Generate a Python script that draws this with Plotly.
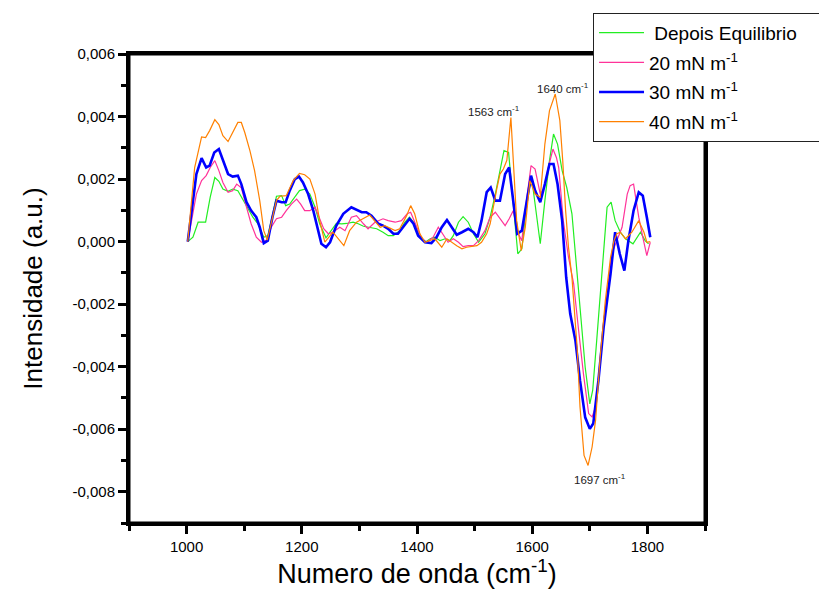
import plotly.graph_objects as go

# Difference spectra (intensity vs wavenumber) for the monolayer series
wn_equil = [1002, 1011, 1020, 1033, 1041, 1049, 1056, 1063, 1072, 1080, 1089, 1098, 1107, 1115,
            1124, 1134, 1141, 1149, 1156, 1165, 1172, 1179, 1188, 1196, 1205, 1214, 1223, 1231,
            1242, 1254, 1260, 1269, 1278, 1289, 1298, 1307, 1318, 1330, 1341, 1350, 1359, 1370,
            1379, 1387, 1396, 1405, 1414, 1423, 1431, 1440, 1449, 1457, 1463, 1472, 1480, 1489,
            1498, 1507, 1518, 1527, 1536, 1544, 1551, 1559, 1566, 1575, 1582, 1591, 1599, 1605,
            1614, 1622, 1630, 1637, 1644, 1652, 1660, 1669, 1678, 1685, 1692, 1700, 1705, 1712,
            1721, 1730, 1737, 1744, 1753, 1762, 1775, 1788, 1796, 1802]
int_equil = [0.0, 0.00014, 0.00062, 0.00062, 0.00142, 0.00205, 0.00193, 0.00168, 0.00161, 0.00168,
             0.00163, 0.00131, 0.00104, 0.00078, 0.00057, 0.00014, 0.00019, 0.00083, 0.00145,
             0.00147, 0.00115, 0.0012, 0.00142, 0.00163, 0.00168, 0.00152, 0.0011, 0.00057,
             0.00012, 0.00041, 0.00058, 0.00057, 0.00058, 0.00062, 0.00057, 0.00049, 0.00046,
             0.00041, 0.0003, 0.00019, 0.00019, 0.00035, 0.00062, 0.00078, 0.00057, 0.00014,
             -0.00002, 0.00009, 0.00014, 0.00003, 0.00009, 0.00003, 0.00019, 0.00062, 0.0008,
             0.00062, 0.00025, -0.00002, 0.00025, 0.00078, 0.00152, 0.00227, 0.00291, 0.00285,
             0.00152, -0.00039, -0.00023, 0.00131, 0.00205, 0.0012, -0.00007, 0.00131, 0.00259,
             0.00344, 0.00312, 0.00227, 0.00173, 0.00089, -0.00103, -0.00274, -0.00402, -0.00519,
             -0.00476, -0.00316, -0.00103, 0.0011, 0.00126, 0.00067, 0.0003, 0.00009, -0.00007,
             0.0003, 0.00003, -0.00007]

wn_20 = [1002, 1011, 1017, 1026, 1034, 1041, 1049, 1056, 1063, 1072, 1080, 1087, 1095, 1104, 1112,
         1121, 1130, 1139, 1147, 1156, 1165, 1173, 1182, 1191, 1198, 1205, 1214, 1223, 1230, 1238,
         1246, 1254, 1266, 1275, 1286, 1295, 1307, 1315, 1327, 1341, 1350, 1362, 1373, 1383, 1389,
         1400, 1408, 1417, 1428, 1437, 1446, 1454, 1463, 1472, 1480, 1489, 1498, 1507, 1518, 1527,
         1536, 1544, 1553, 1560, 1567, 1576, 1582, 1590, 1598, 1605, 1614, 1621, 1628, 1636, 1642,
         1646, 1654, 1663, 1672, 1680, 1689, 1698, 1704, 1710, 1718, 1727, 1738, 1747, 1756, 1765,
         1770, 1776, 1785, 1792, 1799, 1805]
int_20 = [0.0, 0.00089, 0.00152, 0.00195, 0.00211, 0.00237, 0.00259, 0.00227, 0.00189, 0.00158,
          0.00163, 0.00184, 0.00172, 0.0011, 0.00057, 0.00014, -0.00002, 0.00005, 0.00046, 0.00073,
          0.00078, 0.00099, 0.0012, 0.00136, 0.0012, 0.00099, 0.00099, 0.0011, 0.00078, 0.00041,
          0.00025, 0.0003, 0.00046, 0.00035, 0.00078, 0.00083, 0.00057, 0.00041, 0.00062, 0.00073,
          0.00067, 0.00062, 0.00067, 0.00089, 0.00094, 0.00046, 0.00009, -0.00002, 0.00014,
          0.00046, 0.00019, -0.00002, 0.00009, -0.00002, -0.00016, -0.00013, -0.00013, 0.00003,
          0.00035, 0.00078, 0.00094, 0.00073, 0.00051, 0.00073, 0.00099, 0.00025, 0.00003,
          0.00131, 0.00243, 0.00232, 0.00152, 0.00173, 0.00237, 0.00296, 0.00269, 0.00237,
          0.00067, -0.0005, -0.00135, -0.00274, -0.00423, -0.0055, -0.00561, -0.00529, -0.0037,
          -0.0021, -0.00039, 0.00003, 0.00046, 0.00152, 0.00179, 0.00184, 0.00078, 0.00014,
          -0.00045, -0.00002]

wn_30 = [1002, 1011, 1017, 1026, 1034, 1040, 1048, 1056, 1063, 1072, 1080, 1089, 1095, 1104, 1112,
         1121, 1127, 1134, 1141, 1149, 1156, 1165, 1172, 1179, 1188, 1195, 1202, 1211, 1220, 1228,
         1234, 1242, 1249, 1260, 1272, 1286, 1295, 1304, 1312, 1321, 1333, 1341, 1350, 1359, 1367,
         1376, 1387, 1394, 1402, 1414, 1425, 1434, 1443, 1452, 1460, 1469, 1478, 1489, 1498, 1505,
         1512, 1521, 1528, 1536, 1544, 1553, 1560, 1567, 1574, 1582, 1591, 1598, 1605, 1614, 1622,
         1630, 1637, 1644, 1652, 1659, 1666, 1675, 1683, 1692, 1700, 1706, 1715, 1724, 1736, 1744,
         1752, 1760, 1767, 1776, 1785, 1792, 1799, 1805]
int_30 = [0.0, 0.00131, 0.00216, 0.00267, 0.00237, 0.00243, 0.00285, 0.00296, 0.00259, 0.00216,
          0.00208, 0.00211, 0.00184, 0.00126, 0.00099, 0.00078, 0.00046, -0.00005, 0.00003,
          0.00078, 0.00131, 0.00126, 0.00126, 0.00163, 0.002, 0.00208, 0.00189, 0.00152, 0.00099,
          0.00035, -0.00007, -0.00018, -0.00002, 0.00051, 0.00089, 0.0011, 0.00102, 0.00094,
          0.00094, 0.00083, 0.00057, 0.00051, 0.00041, 0.00025, 0.00025, 0.00046, 0.00073,
          0.00057, 0.00019, -0.00002, -0.00005, 0.00014, 0.00046, 0.00069, 0.00046, 0.00022,
          0.0003, 0.00041, 0.0003, 0.00014, 0.00067, 0.00158, 0.00173, 0.00131, 0.00131, 0.00216,
          0.00237, 0.00131, 0.00025, 0.00035, 0.00131, 0.00211, 0.00163, 0.00126, 0.00184,
          0.00248, 0.00248, 0.00184, 0.00067, -0.00114, -0.00231, -0.00316, -0.00444, -0.00562,
          -0.00599, -0.00582, -0.00444, -0.00274, -0.00103, 0.0003, -0.00039, -0.00093, 0.00003,
          0.00099, 0.00158, 0.00147, 0.00078, 0.00014]

wn_40 = [1002, 1014, 1026, 1033, 1040, 1049, 1056, 1063, 1072, 1080, 1089, 1095, 1101, 1110, 1118,
         1127, 1134, 1140, 1147, 1156, 1162, 1173, 1185, 1196, 1205, 1214, 1223, 1231, 1240, 1254,
         1273, 1283, 1295, 1307, 1318, 1336, 1344, 1362, 1370, 1382, 1389, 1396, 1405, 1414, 1423,
         1431, 1443, 1452, 1469, 1478, 1486, 1504, 1512, 1521, 1527, 1533, 1539, 1544, 1550, 1556,
         1563, 1573, 1581, 1588, 1596, 1605, 1614, 1622, 1630, 1640, 1648, 1653, 1658, 1663, 1669,
         1678, 1683, 1690, 1697, 1704, 1710, 1718, 1727, 1736, 1742, 1747, 1753, 1762, 1773, 1785,
         1794, 1799, 1805]
int_40 = [0.0, 0.00237, 0.00335, 0.00333, 0.00355, 0.0039, 0.00374, 0.00339, 0.0032, 0.00349,
          0.00381, 0.00381, 0.00349, 0.0029, 0.00227, 0.00131, 0.00035, 0.00005, 0.00058, 0.00131,
          0.00145, 0.00147, 0.00195, 0.00218, 0.00214, 0.002, 0.00152, 0.00067, -0.00002, 0.0003,
          -0.00013, 0.00035, 0.00062, 0.00073, 0.00085, 0.00046, 0.00051, 0.00035, 0.00041,
          0.00083, 0.00115, 0.00089, 0.00025, -0.00002, 0.00003, 0.00009, -0.00018, 0.00009,
          -0.00013, -0.00023, -0.00018, -0.00013, -0.00002, 0.00025, 0.00057, 0.0012, 0.00173,
          0.00216, 0.00232, 0.0026, 0.00397, 0.00067, -0.00029, 0.00046, 0.00195, 0.00152,
          0.00142, 0.00312, 0.00419, 0.00472, 0.00387, 0.00259, 0.00099, -0.00018, -0.00114,
          -0.00338, -0.00529, -0.00684, -0.00716, -0.00657, -0.00572, -0.0037, -0.00188, -0.0005,
          0.00003, 0.00025, 0.0003, 0.00009, 0.0003, 0.00067, 0.0003, -0.00002, 0.0]

series_names = ["&nbsp;Depois Equilibrio&nbsp;&nbsp;&nbsp;&nbsp;&nbsp;&nbsp;",
                "20 mN m<sup>-1</sup>", "30 mN m<sup>-1</sup>", "40 mN m<sup>-1</sup>"]
series_colors = ["#22EE22", "#FF3399", "#0000FF", "#FF8000"]
series_widths = [1.2, 1.2, 2.6, 1.2]

# Y tick values, labelled with a decimal comma and a plain hyphen
y_tick_vals = [-0.008, -0.006, -0.004, -0.002, 0.0, 0.002, 0.004, 0.006]
y_tick_text = [f"{v:.3f}".replace(".", ",") for v in y_tick_vals]

# Bands marked on the 40 mN m-1 spectrum
band_wn = [1563, 1640, 1697]
band_labels = ["1563 cm<sup>-1</sup>", "1640 cm<sup>-1</sup>", "1697 cm<sup>-1</sup>"]

FONT = "Arial, 'Liberation Sans', sans-serif"

fig = go.Figure()
all_x = [wn_equil, wn_20, wn_30, wn_40]
all_y = [int_equil, int_20, int_30, int_40]
for i in range(4):
    fig.add_trace(go.Scatter(
        x=all_x[i], y=all_y[i], mode="lines", name=series_names[i],
        legendgroup=f"g{i}",
        line=dict(color=series_colors[i], width=series_widths[i]),
    ))

# Annotate the bands, anchored on the 40 mN m-1 trace
offsets = [(-17, "bottom", -3), (8, "bottom", -3), (12, "top", -5)]
for wn, lab, (dx, yanc, dy) in zip(band_wn, band_labels, offsets):
    yv = int_40[wn_40.index(wn)]
    fig.add_annotation(x=wn, y=yv, xref="x", yref="y", text=lab, showarrow=False,
                       xanchor="center", yanchor=yanc, xshift=dx, yshift=dy,
                       font=dict(family=FONT, size=11.5, color="#222222"))

tick_font = dict(family=FONT, size=15, color="black")

fig.layout.xaxis = go.layout.XAxis(
    range=[900, 1900], tick0=1000, dtick=200,
    showline=True, linecolor="black", linewidth=3, mirror=True,
    showgrid=False, zeroline=False,
    ticks="outside", ticklen=8, tickwidth=3, tickcolor="black", tickfont=tick_font,
    minor=go.layout.xaxis.Minor(dtick=100, tick0=900, ticks="outside", ticklen=5,
                                tickwidth=3, tickcolor="black", showgrid=False),
    title=go.layout.xaxis.Title(text="Numero de onda (cm<sup>-1</sup>)",
                                font=dict(family=FONT, size=27, color="black"), standoff=3),
)
fig.layout.yaxis = go.layout.YAxis(
    range=[-0.009, 0.006], tickmode="array", tickvals=y_tick_vals, ticktext=y_tick_text,
    showline=True, linecolor="black", linewidth=3, mirror=True,
    showgrid=False, zeroline=False,
    ticks="outside", ticklen=8, tickwidth=3, tickcolor="black", tickfont=tick_font,
    minor=go.layout.yaxis.Minor(tickmode="linear", dtick=0.001, tick0=0, ticks="outside",
                                ticklen=5, tickwidth=3, tickcolor="black", showgrid=False),
    title=go.layout.yaxis.Title(text="Intensidade (a.u.)",
                                font=dict(family=FONT, size=26, color="black"), standoff=23),
)

# Heavy box around the plotting area (outline only)
fig.add_shape(type="rect", xref="paper", yref="paper", x0=0, y0=0, x1=1, y1=1,
              fillcolor="rgba(0,0,0,0)", opacity=1,
              line=dict(color="black", width=3), layer="above")

fig.update_layout(
    width=819, height=589,
    margin=dict(l=129, r=114, t=54, b=66, autoexpand=False),
    paper_bgcolor="white", plot_bgcolor="white",
    separators=",.",
    showlegend=True,
    legend=dict(
        x=0.8056, y=1.088, xanchor="left", yanchor="top",
        bgcolor="white", bordercolor="#222222", borderwidth=1,
        font=dict(family=FONT, size=19, color="black"),
        itemwidth=45, tracegroupgap=2,
    ),
)

fig.write_html("out.html")
